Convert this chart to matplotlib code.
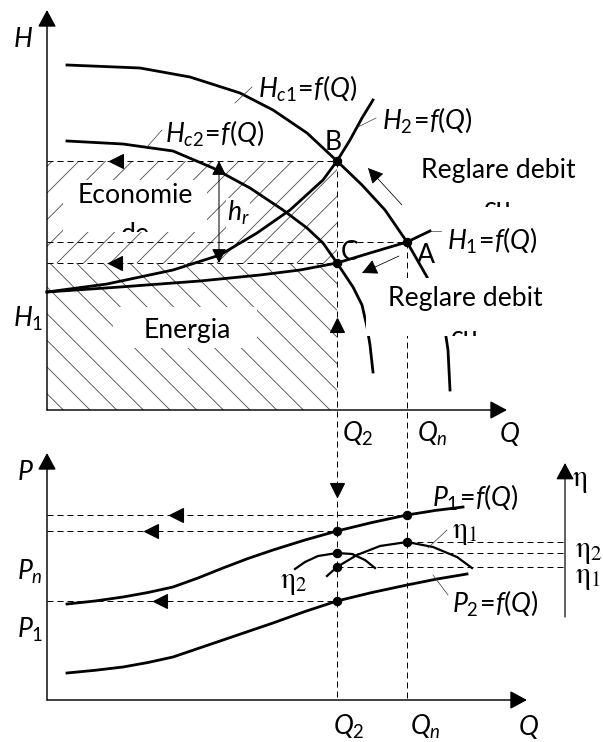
import matplotlib
matplotlib.use("Agg")
import matplotlib.pyplot as plt
from matplotlib.patches import Rectangle
from matplotlib.transforms import Bbox, TransformedBbox

plt.rcParams["font.family"] = ["Lato", "DejaVu Sans"]
plt.rcParams["mathtext.fontset"] = "custom"
plt.rcParams["mathtext.rm"] = "Lato"
plt.rcParams["mathtext.it"] = "Lato:italic"
plt.rcParams["mathtext.bf"] = "Lato:bold"
plt.rcParams["hatch.linewidth"] = 0.8

# ---------------- upper panel: head H versus flow Q ----------------
Q2, QN = 290, 360               # throttled flow, nominal flow
H_B, H_A, H_C = 249, 168, 147   # heads at operating points B, A, C

# pump curve, full speed
hc1_q = [20, 93, 143, 193, 226, 260, 290, 315, 338, 360, 380, 390, 398, 401, 403]
hc1_h = [345, 342, 333, 317, 300, 277, 249, 225, 200, 168, 133, 108, 80, 60, 20]
# pump curve, reduced speed
hc2_q = [20, 76, 126, 166, 203, 236, 260, 276, 290, 306, 315, 320, 323, 326]
hc2_h = [269, 266, 259, 242, 222, 200, 182, 167, 147, 123, 105, 83, 65, 38]
# system curve with throttling valve
h2_q = [0, 60, 126, 173, 210, 243, 276, 290, 303, 315, 326]
h2_h = [118, 126, 140, 155, 177, 200, 230, 249, 270, 292, 310]
# system curve, valve fully open
h1_q = [0, 73, 153, 213, 253, 290, 323, 360, 383]
h1_h = [118, 123, 129, 135, 140, 147, 157, 168, 179]

# ---------------- lower panel: power P and efficiency versus Q ----------------
p1_q = [20, 48, 76, 101, 126, 151, 176, 201, 226, 258, 290, 325, 360, 388, 416]
p1_p = [96, 99, 103, 107.5, 113, 122, 132, 141.5, 150, 160, 169, 177.5, 185, 189.5, 193]
p2_q = [20, 48, 76, 101, 126, 151, 176, 201, 226, 258, 290, 325, 360, 390, 420]
p2_p = [27, 29.7, 33, 37.5, 43, 51.5, 60, 68.5, 77, 88.5, 99, 107.5, 115, 121, 126]
eta2_q = [248, 258, 271, 290, 305, 318, 328]
eta2_p = [131, 138, 144, 147, 146, 140, 132]
eta1_q = [280, 290, 310, 333, 360, 386, 410, 425]
eta1_p = [124, 133, 145, 154, 158, 153, 143, 132]

P_QN, P_Q2, P2_Q2 = 185, 169, 99        # power levels read on the P axis
ETA_N, ETA2_Q2, ETA1_Q2 = 158, 147, 133  # efficiency levels
Q_ETA = 518                               # position of the efficiency axis

H0 = 290   # height of the upper Q axis above the lower one
FS = 24
FS_ETA = 27

def up(vals):
    return [v + H0 for v in vals]

fig = plt.figure(figsize=(603 / 80, 742 / 80), dpi=80)
ax = fig.add_axes([0, 0, 1, 1])
ax.set_xlim(-47, 556)
ax.set_ylim(-42, 700)
ax.axis("off")

K = "black"
CURVE = dict(color=K, lw=2.5, zorder=3)
DASH = dict(color=K, lw=0.9, dashes=(6, 4), zorder=2)
THIN = dict(color="#333333", lw=0.6, zorder=3)


def arrow(x0, y0, x1, y1, hl=13, hw=7, lw=1.3, style="-|>"):
    ax.annotate("", xy=(x1, y1), xytext=(x0, y0), zorder=3,
                arrowprops=dict(arrowstyle=f"{style},head_length={hl},head_width={hw}",
                                mutation_scale=1, lw=lw, color=K,
                                shrinkA=0, shrinkB=0))


# axes with arrow tips
arrow(0, H0, 0, H0 + 400)
arrow(0, H0, 460, H0)
arrow(0, 0, 0, 247)
arrow(0, 0, 480, 0)
arrow(Q_ETA, 83, Q_ETA, 237, lw=1.1)

# hatched energy areas
ax.add_patch(Rectangle((0, H_C + H0), Q2, H_B - H_C, facecolor="none",
                       edgecolor="#555555", hatch="/", lw=0, zorder=1))
ax.add_patch(Rectangle((0, H0), Q2, H_C, facecolor="none",
                       edgecolor="#555555", hatch="\\", lw=0, zorder=1))

# dashed reading lines, upper panel
ax.plot([0, Q2], [H_B + H0] * 2, **DASH)
ax.plot([0, QN], [H_A + H0] * 2, **DASH)
ax.plot([0, Q2], [H_C + H0] * 2, **DASH)
ax.plot([Q2, Q2], [H_B + H0, 0], **DASH)
ax.plot([QN, QN], [H_A + H0, 0], **DASH)
# dashed reading lines, lower panel
ax.plot([0, QN], [P_QN] * 2, **DASH)
ax.plot([0, Q2], [P_Q2] * 2, **DASH)
ax.plot([0, Q2], [P2_Q2] * 2, **DASH)
ax.plot([QN, Q_ETA], [ETA_N] * 2, **DASH)
ax.plot([Q2, Q_ETA], [ETA2_Q2] * 2, **DASH)
ax.plot([Q2, Q_ETA], [ETA1_Q2] * 2, **DASH)

# direction marks on the reading lines
MK = dict(color=K, ms=13, lw=0, zorder=3)
ax.plot([69, 68], [H_B + H0, H_C + H0], "<", **MK)
ax.plot([129, 104, 113], [P_QN, P_Q2, P2_Q2], "<", **MK)
ax.plot([Q2], [85 + H0], "^", **MK)
ax.plot([Q2], [210], "v", **MK)

# characteristic curves
ax.plot(hc1_q, up(hc1_h), **CURVE)
ax.plot(hc2_q, up(hc2_h), **CURVE)
ax.plot(h2_q, up(h2_h), **CURVE)
ax.plot(h1_q, up(h1_h), **CURVE)
ax.plot(p1_q, p1_p, **CURVE)
ax.plot(p2_q, p2_p, **CURVE)
ax.plot(eta2_q, eta2_p, color=K, lw=2.0, zorder=3)
ax.plot(eta1_q, eta1_p, color=K, lw=2.0, zorder=3)

# operating points
DOT = dict(color=K, ms=7.5, lw=0, zorder=5)
ax.plot([Q2, QN, Q2], up([H_B, H_A, H_C]), "o", **DOT)
ax.plot([Q2, QN, Q2, Q2, Q2, QN],
        [P_Q2, P_QN, ETA2_Q2, ETA1_Q2, P2_Q2, ETA_N], "o", **DOT)

# throttling head difference h_r
arrow(172, H_C + H0, 172, H_B + H0, hl=11, hw=5.5, lw=0.9, style="<|-|>")

# regulation arrows
arrow(355, 495, 321, 532, hl=12, hw=6, lw=0.7)
arrow(352, 444, 315, 427, hl=12, hw=6, lw=0.7)

# leader lines
for (a, b), (c, d) in [((188, 597), (205, 613)), ((100, 553), (115, 570)),
                       ((311, 573), (329, 582)), ((383, 469), (394, 469)),
                       ((381, 152), (400, 170)), ((386, 125), (401, 105))]:
    ax.plot([a, c], [b, d], **THIN)


def boxed(q0, q1, y0, y1, lines):
    ax.add_patch(Rectangle((q0, y0), q1 - q0, y1 - y0, facecolor="white",
                           edgecolor="none", zorder=4))
    clip = TransformedBbox(Bbox([[q0, y0], [q1, y1]]), ax.transData)
    for s, q, y in lines:
        t = ax.text(q, y, s, ha="center", va="baseline", fontsize=FS,
                    zorder=6, clip_on=True)
        t.set_clip_box(clip)


boxed(16, 160, 468, 520, [("Economie", 88, 497), ("de", 88, 458)])
boxed(355, 545, 493, 550, [("Reglare debit", 451, 522), ("cu", 451, 484)])
boxed(319, 528, 364, 422, [("Reglare debit", 418, 394), ("cu", 418, 355)])
boxed(66, 210, 352, 393, [("Energia", 140, 362)])

TX = dict(fontsize=FS, va="baseline", zorder=6)
ax.text(211, 602, r"$H_{c1}\!=\!f(Q)$", **TX)
ax.text(118, 557, r"$H_{c2}\!=\!f(Q)$", **TX)
ax.text(335, 570, r"$H_2\!=\!f(Q)$", **TX)
ax.text(400, 450, r"$H_1\!=\!f(Q)$", **TX)
ax.text(286, 550, "B", ha="center", **TX)
ax.text(303, 440, "C", ha="center", **TX)
ax.text(379, 437, "A", ha="center", **TX)
ax.text(191, 479, r"$h_r$", ha="center", fontsize=FS, va="baseline", zorder=6,
        bbox=dict(facecolor="white", edgecolor="none", pad=1))
ax.text(-24, 653, r"$H$", ha="center", **TX)
ax.text(-19, 373, r"$H_1$", ha="center", **TX)
for q, s in [(295, r"$Q_2$"), (370, r"$Q_n$"), (452, r"$Q$")]:
    ax.text(q, 258, s, **TX)
for q, s in [(286, r"$Q_2$"), (363, r"$Q_n$"), (471, r"$Q$")]:
    ax.text(q, -35, s, **TX)
ax.text(-22, 220, r"$P$", ha="center", **TX)
ax.text(-30, 120, r"$P_n$", **TX)
ax.text(-30, 62, r"$P_1$", **TX)
ax.text(385, 193, r"$P_1\!=\!f(Q)$", **TX)
ax.text(405, 87, r"$P_2\!=\!f(Q)$", **TX)

EX = dict(fontsize=FS_ETA, va="baseline", zorder=6, math_fontfamily="stix")
ax.text(405, 162, r"$\mathrm{\eta}_1$", **EX)
ax.text(233, 112, r"$\mathrm{\eta}_2$", **EX)
ax.text(528, 143, r"$\mathrm{\eta}_2$", **EX)
ax.text(528, 117, r"$\mathrm{\eta}_1$", **EX)
ax.text(525, 214, r"$\mathrm{\eta}$", **EX)

fig.savefig("out.png", dpi=80)
